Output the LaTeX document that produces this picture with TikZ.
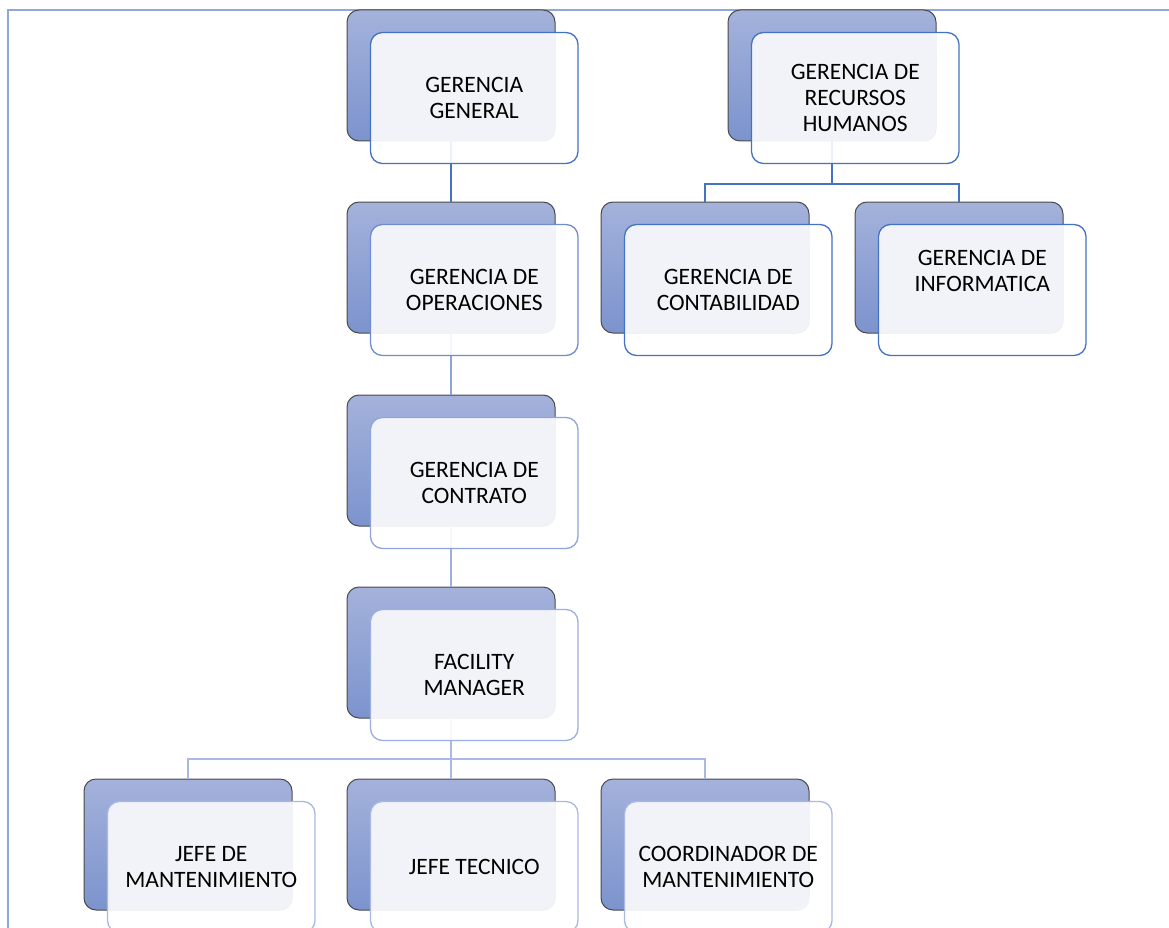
\documentclass[tikz,border=0pt]{standalone}
\usepackage{fontspec}
\setmainfont{Carlito}
\usetikzlibrary{calc}
\definecolor{frameblue}{HTML}{8EA7DD}
\definecolor{backtop}{HTML}{A4B2DB}
\definecolor{backbot}{HTML}{7C93CD}
\definecolor{backline}{HTML}{4A4A4A}
\definecolor{lightfill}{HTML}{F2F3F8}
\definecolor{cA}{HTML}{4472C4}
\definecolor{cB}{HTML}{6F8DD0}
\definecolor{cC}{HTML}{8FA4DA}
\definecolor{cD}{HTML}{9DAFE0}
\definecolor{cE}{HTML}{A9B9E3}
\tikzset{
  backbox/.style={rectangle, rounded corners=12pt, minimum width=208pt, minimum height=131pt,
    inner sep=0pt, outer sep=0pt, anchor=north west, draw=backline, line width=1pt,
    top color=backtop, bottom color=backbot},
  frontbox/.style={rectangle, rounded corners=12pt, minimum width=207.5pt, minimum height=131pt,
    inner sep=0pt, outer sep=0pt, anchor=north west, line width=1.3pt},
  lbl/.style={align=center, inner sep=0pt, font=\fontsize{23.5}{26}\selectfont, text=black},
  conn/.style={line width=2.6pt},
}
\newcommand\backunit[3]{\node[backbox] (#1b) at (#2,#3) {};}
\newcommand\frontunit[4]{%
  \node[frontbox, fill=white, fill opacity=0.9] (#1f) at ($(#1b.north west)+(23.5,22.5)$) {};
  \fill[lightfill, rounded corners=12pt] (#1f.north west) rectangle (#1b.south east);
  \node[frontbox, draw=#2] at (#1f.north west) {};
  \node[lbl] (#1t) at ($(#1f.center)+(0,#4)$) {#3};}
\begin{document}
\begin{tikzpicture}[x=1pt,y=-1pt]
\useasboundingbox (0,0) rectangle (1169,928);
\clip (0,0) rectangle (1169,928);
\fill[white] (0,0) rectangle (1169,928);
\draw[frameblue, line width=1.6pt] (8,940) -- (8,10) -- (1180,10);
% back boxes
\backunit{gg}{347}{10}
\backunit{ops}{347}{202}
\backunit{con}{347}{395}
\backunit{fm}{347}{587}
\backunit{jm}{84}{779}
\backunit{jt}{347}{779}
\backunit{cr}{601}{779}
\backunit{rh}{728}{10}
\backunit{ct}{601}{202}
\backunit{inf}{855}{202}
% connectors
\draw[conn, cA] (ggb.south) -- (opsb.north);
\draw[conn, cC] (opsb.south) -- (conb.north);
\draw[conn, cD] (conb.south) -- (fmb.north);
\coordinate (bus) at ($(fmb.south)+(0,41)$);
\draw[conn, cE] (fmb.south) -- (bus);
\draw[conn, cE] (bus) -| (jmb.north);
\draw[conn, cE] (bus) -| (crb.north);
\draw[conn, cE] (bus) -- (jtb.north);
\coordinate (rbus) at ($(rhb.south)+(0,43)$);
\draw[conn, cA] (rhb.south) -- (rbus);
\draw[conn, cA] (rbus) -| (ctb.north);
\draw[conn, cA] (rbus) -| (infb.north);
% front boxes
\frontunit{gg}{cA}{GERENCIA\\GENERAL}{0}
\frontunit{ops}{cB}{GERENCIA DE\\OPERACIONES}{0}
\frontunit{con}{cC}{GERENCIA DE\\CONTRATO}{0}
\frontunit{fm}{cD}{FACILITY\\MANAGER}{0}
\frontunit{jm}{cE}{JEFE DE\\MANTENIMIENTO}{0}
\frontunit{jt}{cE}{JEFE TECNICO}{0}
\frontunit{cr}{cE}{COORDINADOR DE\\MANTENIMIENTO}{0}
\frontunit{rh}{cA}{GERENCIA DE\\RECURSOS\\HUMANOS}{0}
\frontunit{ct}{cA}{GERENCIA DE\\CONTABILIDAD}{0}
\frontunit{inf}{cA}{GERENCIA DE\\INFORMATICA}{-19}
\end{tikzpicture}
\end{document}
